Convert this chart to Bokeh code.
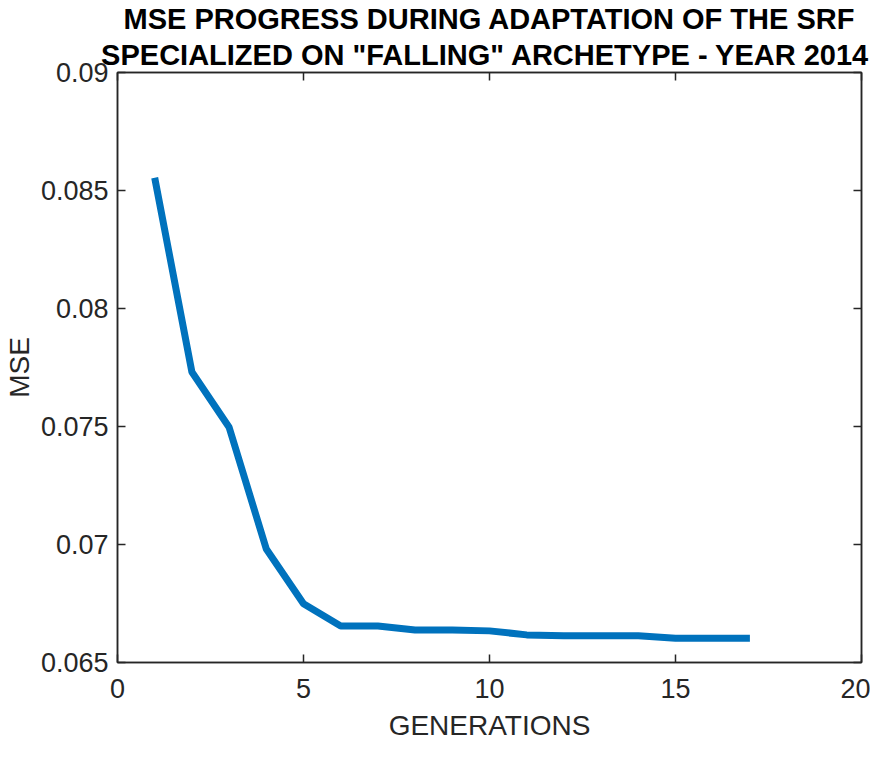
from bokeh.plotting import figure
from bokeh.models import Range1d, LinearAxis, FixedTicker, Title, ColumnDataSource
from bokeh.embed import file_html
from bokeh.resources import INLINE

generations = [1, 2, 3, 4, 5, 6, 7, 8, 9, 10, 11, 12, 13, 14, 15, 16, 17]
mse = [0.08554, 0.07731, 0.07497, 0.06981, 0.06749, 0.06655, 0.06655, 0.06638,
       0.06638, 0.06634, 0.06617, 0.06613, 0.06613, 0.06613, 0.06603, 0.06603, 0.06603]

x_ticks = [0, 5, 10, 15, 20]
y_ticks = [0.065, 0.07, 0.075, 0.08, 0.085, 0.09]
y_tick_labels = ["0.065", "0.07", "0.075", "0.08", "0.085", "0.09"]

title_line1 = "MSE PROGRESS DURING ADAPTATION OF THE SRF"
title_line2 = 'SPECIALIZED  ON "FALLING" ARCHETYPE - YEAR 2014'
x_label = "GENERATIONS"
y_label = "MSE"

FONT = "Liberation Sans"
AX = "#262626"

p = figure(width=870, height=743, output_backend="svg", toolbar_location=None,
           x_range=Range1d(0, 20), y_range=Range1d(0.065, 0.09),
           min_border_left=0, min_border_right=9, min_border_top=0, min_border_bottom=80,
           title=None)
p.background_fill_color = "white"
p.border_fill_color = "white"
p.outline_line_color = AX
p.outline_line_width = 1.5
p.xgrid.visible = False
p.ygrid.visible = False

src = ColumnDataSource(dict(x=generations, y=mse))
p.line("x", "y", source=src, line_color="#0072BD", line_width=7)

def style(ax):
    ax.axis_line_color = AX
    ax.axis_line_width = 1.5
    ax.major_tick_line_color = AX
    ax.major_tick_line_width = 1.5
    ax.major_tick_in = 8
    ax.major_tick_out = 0
    ax.minor_tick_line_color = None
    ax.major_label_text_font = FONT
    ax.major_label_text_color = AX
    ax.major_label_text_font_size = "27px"
    ax.axis_label_text_font = FONT
    ax.axis_label_text_font_size = "28px"
    ax.axis_label_text_font_style = "normal"
    ax.axis_label_text_color = AX

xa = p.xaxis[0]
xa.ticker = FixedTicker(ticks=x_ticks)
xa.axis_label = x_label
style(xa)
xa.major_label_standoff = 16
xa.axis_label_standoff = 9

ya = p.yaxis[0]
ya.ticker = FixedTicker(ticks=y_ticks)
ya.major_label_overrides = {t: l for t, l in zip(y_ticks, y_tick_labels)}
ya.axis_label = y_label
style(ya)
ya.major_label_standoff = 9
ya.axis_label_standoff = 3

top = LinearAxis(ticker=FixedTicker(ticks=x_ticks))
style(top)
top.major_label_overrides = {t: "" for t in x_ticks}
top.major_label_standoff = 0
p.add_layout(top, "above")
right = LinearAxis(ticker=FixedTicker(ticks=y_ticks))
style(right)
right.major_label_overrides = {t: "" for t in y_ticks}
right.major_label_standoff = 0
p.add_layout(right, "right")

t2 = Title(text=title_line2, align="center", text_font=FONT, text_font_size="29px",
           text_font_style="bold", text_color="black", offset=0, standoff=4)
t1 = Title(text=title_line1, align="center", text_font=FONT, text_font_size="29px",
           text_font_style="bold", text_color="black", offset=0, standoff=0)
p.add_layout(t2, "above")
p.add_layout(t1, "above")

open("out.html", "w").write(file_html(p, INLINE))
